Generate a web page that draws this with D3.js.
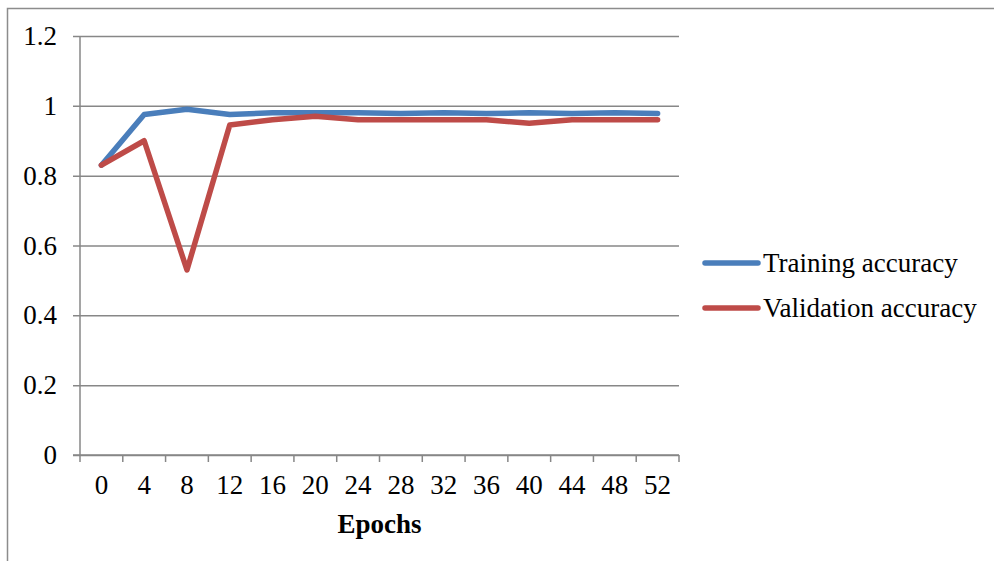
<!DOCTYPE html>
<html>
<head>
<meta charset="utf-8">
<script src="https://cdn.jsdelivr.net/npm/d3@7"></script>
<style>
  body { margin: 0; background: #fff; }
  text { font-family: "Liberation Serif", "Times New Roman", serif; fill: #000; }
</style>
</head>
<body>
<div id="chart"></div>
<script>
// Data
const epochs = [0, 4, 8, 12, 16, 20, 24, 28, 32, 36, 40, 44, 48, 52];
const trainingAcc = [0.83, 0.975, 0.99, 0.975, 0.98, 0.98, 0.98, 0.978, 0.98, 0.978, 0.98, 0.978, 0.98, 0.978];
const validationAcc = [0.83, 0.90, 0.53, 0.945, 0.96, 0.97, 0.96, 0.96, 0.96, 0.96, 0.95, 0.96, 0.96, 0.96];
const yTicks = [0, 0.2, 0.4, 0.6, 0.8, 1, 1.2];
const seriesNames = ["Training accuracy", "Validation accuracy"];
const seriesColors = ["#4A7EBB", "#BE4B48"];

const width = 994;
const height = 561;
const margin = { left: 80, right: 315, top: 36, bottom: 106 };
const plotW = width - margin.left - margin.right;
const plotH = height - margin.top - margin.bottom;
const fontSize = 27;

const svg = d3.select("#chart")
    .append("svg")
    .attr("width", width)
    .attr("height", height);

// Outer chart border (runs past the window like the original)
svg.append("rect")
    .attr("x", 7.5).attr("y", 8.5)
    .attr("width", 1000).attr("height", 600)
    .attr("fill", "none")
    .attr("stroke", "#8c8c8c")
    .attr("stroke-width", 1.5);

const x = d3.scaleBand()
    .domain(epochs)
    .range([margin.left, margin.left + plotW])
    .padding(0);

const y = d3.scaleLinear()
    .domain([0, 1.2])
    .range([margin.top + plotH, margin.top]);

// Y gridlines + labels
const yAxis = svg.append("g")
    .attr("transform", `translate(${margin.left},0)`)
    .call(d3.axisLeft(y).tickValues(yTicks).tickSize(-plotW).tickSizeOuter(0).tickPadding(23)
        .tickFormat(d => d3.format("")(+d.toFixed(1))));
yAxis.select(".domain").remove();
yAxis.selectAll(".tick line")
    .attr("x1", -7)
    .attr("stroke", "#878787")
    .attr("stroke-width", 1.5);
yAxis.selectAll(".tick text")
    .attr("font-size", fontSize)
    .style("font-family", "Liberation Serif");

// Y axis line
svg.append("line")
    .attr("x1", margin.left).attr("x2", margin.left)
    .attr("y1", y(1.2)).attr("y2", y(0))
    .attr("stroke", "#878787").attr("stroke-width", 1.5);

// X axis line and category ticks (between categories)
const xAxisG = svg.append("g");
xAxisG.append("line")
    .attr("x1", margin.left - 7).attr("x2", margin.left + plotW)
    .attr("y1", y(0)).attr("y2", y(0))
    .attr("stroke", "#878787").attr("stroke-width", 1.5);
const tickPos = epochs.map(d => x(d)).concat([margin.left + plotW]);
xAxisG.selectAll("line.tick")
    .data(tickPos)
    .join("line")
    .attr("class", "tick")
    .attr("x1", d => d).attr("x2", d => d)
    .attr("y1", y(0)).attr("y2", y(0) + 7)
    .attr("stroke", "#878787").attr("stroke-width", 1.5);
xAxisG.selectAll("text")
    .data(epochs)
    .join("text")
    .attr("x", d => x(d) + x.bandwidth() / 2)
    .attr("y", y(0) + 39)
    .attr("text-anchor", "middle")
    .attr("font-size", fontSize)
    .text(d => d);

// X axis title
svg.append("text")
    .attr("x", margin.left + plotW / 2)
    .attr("y", y(0) + 78)
    .attr("text-anchor", "middle")
    .attr("font-size", fontSize)
    .attr("font-weight", "bold")
    .text("Epochs");

// Lines
const line = d3.line()
    .x((d, i) => x(epochs[i]) + x.bandwidth() / 2)
    .y(d => y(d));

[trainingAcc, validationAcc].forEach((vals, i) => {
    svg.append("path")
        .datum(vals)
        .attr("fill", "none")
        .attr("stroke", seriesColors[i])
        .attr("stroke-width", 5.5)
        .attr("stroke-linejoin", "round")
        .attr("stroke-linecap", "round")
        .attr("d", line);
});

// Legend
const legend = svg.append("g");
seriesNames.forEach((name, i) => {
    const ly = 263 + i * 45;
    legend.append("line")
        .attr("x1", 705).attr("x2", 758)
        .attr("y1", ly).attr("y2", ly)
        .attr("stroke", seriesColors[i])
        .attr("stroke-width", 5.5)
        .attr("stroke-linecap", "round");
    legend.append("text")
        .attr("x", 763)
        .attr("y", ly + 9)
        .attr("font-size", fontSize)
        .text(name);
});
</script>
</body>
</html>
